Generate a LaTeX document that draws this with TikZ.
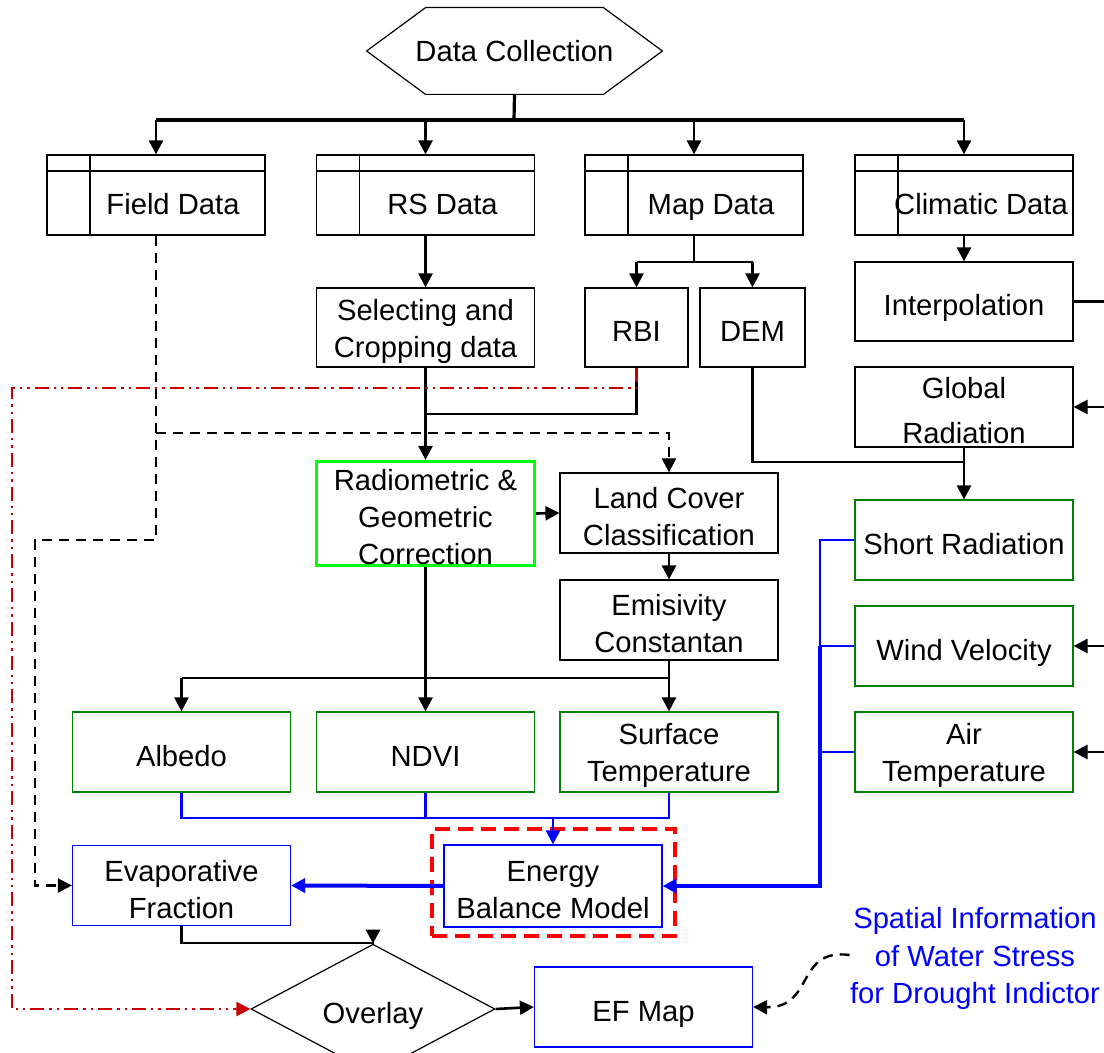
\documentclass[tikz,border=0pt]{standalone}
\usepackage{fontspec}
\setmainfont{Liberation Sans}
\usetikzlibrary{arrows.meta,shapes.geometric,calc}
\definecolor{dgreen}{RGB}{0,128,0}
\definecolor{lgreen}{RGB}{0,255,0}
\definecolor{dred}{RGB}{200,0,0}
\definecolor{pblue}{RGB}{0,0,255}
\newcommand{\ff}{\fontsize{14.6pt}{18.5pt}\selectfont}
\newcommand{\mystrut}{\rule{0pt}{14.5pt}}
\tikzset{
  base/.style={font=\ff, align=center, inner sep=0pt},
  bx/.style={base, draw, line width=0.6pt, minimum width=109pt, minimum height=40pt},
  one/.style={text height=14.5pt, text depth=0pt},
  store/.style={bx, text height=20pt, text depth=0.8pt,
    path picture={
      \draw[line width=0.6pt] ([yshift=-8pt]path picture bounding box.north west) -- ([yshift=-8pt]path picture bounding box.north east);
      \draw[line width=0.6pt] ([xshift=21.5pt]path picture bounding box.north west) -- ([xshift=21.5pt]path picture bounding box.south west);}},
  gbox/.style={bx, draw=dgreen},
  bbox/.style={bx, draw=pblue},
  ln/.style={line width=1.3pt, black},
  bus/.style={line width=1.6pt, black},
  tip/.style={-{Triangle[length=7pt,width=7pt]}},
  ar/.style={ln, tip},
  bl/.style={line width=1.4pt, pblue},
  blar/.style={bl, tip},
  dsh/.style={line width=1.2pt, black, dash pattern=on 5pt off 3.5pt},
  dshar/.style={dsh, tip},
  rdd/.style={line width=1.1pt, dred, dash pattern=on 7pt off 2.5pt on 1.2pt off 2.5pt on 1.2pt off 2.5pt, tip},
}
\begin{document}
\begin{tikzpicture}[x=0.5pt,y=-0.5pt]
\useasboundingbox (0,0) rectangle (1104,1053);

% top hexagon
\node[base, minimum width=147.5pt, minimum height=43pt] (dc) at (514.5,51) {Data Collection};
\draw[line width=0.6pt] (dc.west) -- ($(dc.north west)+(59,0)$) -- ($(dc.north east)+(-59,0)$) -- (dc.east)
  -- ($(dc.south east)+(-59,0)$) -- ($(dc.south west)+(59,0)$) -- cycle;

% data stores
\node[store] (fd) at (156,195) {\hspace*{17pt}Field Data};
\node[store] (rs) at (425.5,195) {\hspace*{17pt}RS Data};
\node[store] (md) at (694,195) {\hspace*{17pt}Map Data};
\node[store] (cd) at (964,195) {\hspace*{17pt}Climatic Data};

% second row
\node[bx, minimum height=39.5pt] (sel) at (425.5,327.5) {\mystrut Selecting and\\Cropping data};
\node[bx, one, minimum width=51.5pt, minimum height=39.5pt] (rbi) at (636.5,327.5) {RBI};
\node[bx, one, minimum width=52.5pt, minimum height=39.5pt] (dem) at (752.5,327.5) {DEM};
\node[bx, one, minimum height=39.5pt] (interp) at (964,301.5) {Interpolation};
\node[bx, font={\fontsize{14.6pt}{22.5pt}\selectfont}] (glob) at (964,407) {\mystrut Global\\Radiation};

% middle
\node[bx, draw=lgreen, line width=1.6pt, minimum width=109pt, minimum height=52pt] (rad) at (425.5,513.5) {\mystrut Radiometric \&\\Geometric\\Correction};
\node[bx] (lc) at (669,513) {\mystrut Land Cover\\Classification};
\node[bx] (em) at (669,620) {\mystrut Emisivity\\Constantan};
\node[gbox, one] (shortr) at (964,540) {Short Radiation};
\node[gbox, one] (wind) at (964,646) {Wind Velocity};
\node[gbox] (air) at (964,752) {\mystrut Air\\Temperature};
\node[gbox, one] (alb) at (181.5,752) {Albedo};
\node[gbox, one] (ndvi) at (425.5,752) {NDVI};
\node[gbox] (st) at (669,752) {\mystrut Surface\\Temperature};

% bottom
\node[bbox, minimum height=41pt] (ebm) at (553,886) {\mystrut Energy\\Balance Model};
\node[draw=red, line width=1.6pt, dash pattern=on 7.5pt off 4pt, minimum width=121.5pt, minimum height=53.5pt, inner sep=0pt] (ebmframe) at (553.5,882.5) {};
\node[bbox] (ef) at (181.5,885.5) {\mystrut Evaporative\\Fraction};
\node[base, one, draw, diamond, line width=0.6pt, minimum width=122pt, minimum height=46pt] (ov) at (373,1009) {Overlay};
\node[bbox, one] (efm) at (643.5,1007) {EF Map};
\node[base, text=pblue, font={\fontsize{14.6pt}{18.75pt}\selectfont}] (sp) at (975,955) {\mystrut Spatial Information\\of Water Stress\\for Drought Indictor};

% coordinates
\coordinate (b1) at (514,120);
\coordinate (b2) at (694,262);
\coordinate (rI) at (1104,301.5);
\coordinate (rG) at (1104,407);
\coordinate (rW) at (1104,646);
\coordinate (rA) at (1104,752);
\coordinate (j1) at (964,462);
\coordinate (j2) at (425.5,414);
\coordinate (j3) at (425.5,678);
\coordinate (j4) at (425.5,818);
\coordinate (j5) at (373,943);
\coordinate (r1) at (12,388);
\coordinate (r2) at (12,1009);
\coordinate (d2) at (35,540);
\coordinate (d3) at (35,885.5);
\coordinate (d4) at (156,433);
\coordinate (vw) at (820,646);

% top bus
\draw[bus] (dc.south) -- (b1);
\draw[bus] (fd.north |- b1) -- (cd.north |- b1);
\foreach \n in {fd,rs,md,cd} \draw[ar] (\n.north |- b1) -- (\n.north);

% RS / Map / Climatic
\draw[ar] (rs.south) -- (sel.north);
\draw[ln] (md.south) -- (b2);
\draw[ln] (rbi.north |- b2) -- (dem.north |- b2);
\draw[ar] (rbi.north |- b2) -- (rbi.north);
\draw[ar] (dem.north |- b2) -- (dem.north);
\draw[ar] (cd.south) -- (interp.north);
\draw[ln] (interp.east) -- (rI);
\draw[ar] (rG) -- (glob.east);
\draw[ar] (rW) -- (wind.east);
\draw[ar] (rA) -- (air.east);
\draw[ar] (glob.south) -- (shortr.north);
\draw[ln] (dem.south) |- (j1);

% to radiometric
\draw[ar] (sel.south) -- (rad.north);
\draw[ln] (rbi.south) |- (j2);

% dashed field data
\draw[dshar] (fd.south) |- (d2) -- (d3) -- (ef.west);
\draw[dshar] (d4) -| (lc.north);

% red dash-dot
\draw[rdd] (rbi.south) |- (r1) -- (r2) -- (ov.west);

% radiometric outputs
\draw[ar] (rad.east) -- (lc.west);
\draw[ar] (lc.south) -- (em.north);
\draw[ar] (rad.south) -- (ndvi.north);
\draw[ln] (alb.north |- j3) -- (st.north |- j3);
\draw[ar] (alb.north |- j3) -- (alb.north);
\draw[ar] (em.south) -- (st.north);

% blue to energy balance
\draw[bl] (alb.south) |- (st.south |- j4) -- (st.south);
\draw[bl] (ndvi.south) -- (j4);
\draw[blar] (ebm.north |- j4) -- (ebm.north);
\draw[bl, line width=1pt] (shortr.west) -| (vw);
\draw[bl, line width=1pt] (wind.west) -- (vw);
\draw[bl, line width=1pt] (air.west) -- (air.west -| vw);
\draw[blar, line width=2pt] (vw) |- (ebm.east);
\draw[blar, line width=2pt] (ebm.west) -- (ef.east);

% bottom flow
\draw[ar] (ef.south) |- (j5) -- (ov.north);
\draw[ar] (ov.east) -- (efm.west);
\draw[dshar] (sp.west) .. controls (795,948) and (815,1008) .. (efm.east);
\end{tikzpicture}
\end{document}
